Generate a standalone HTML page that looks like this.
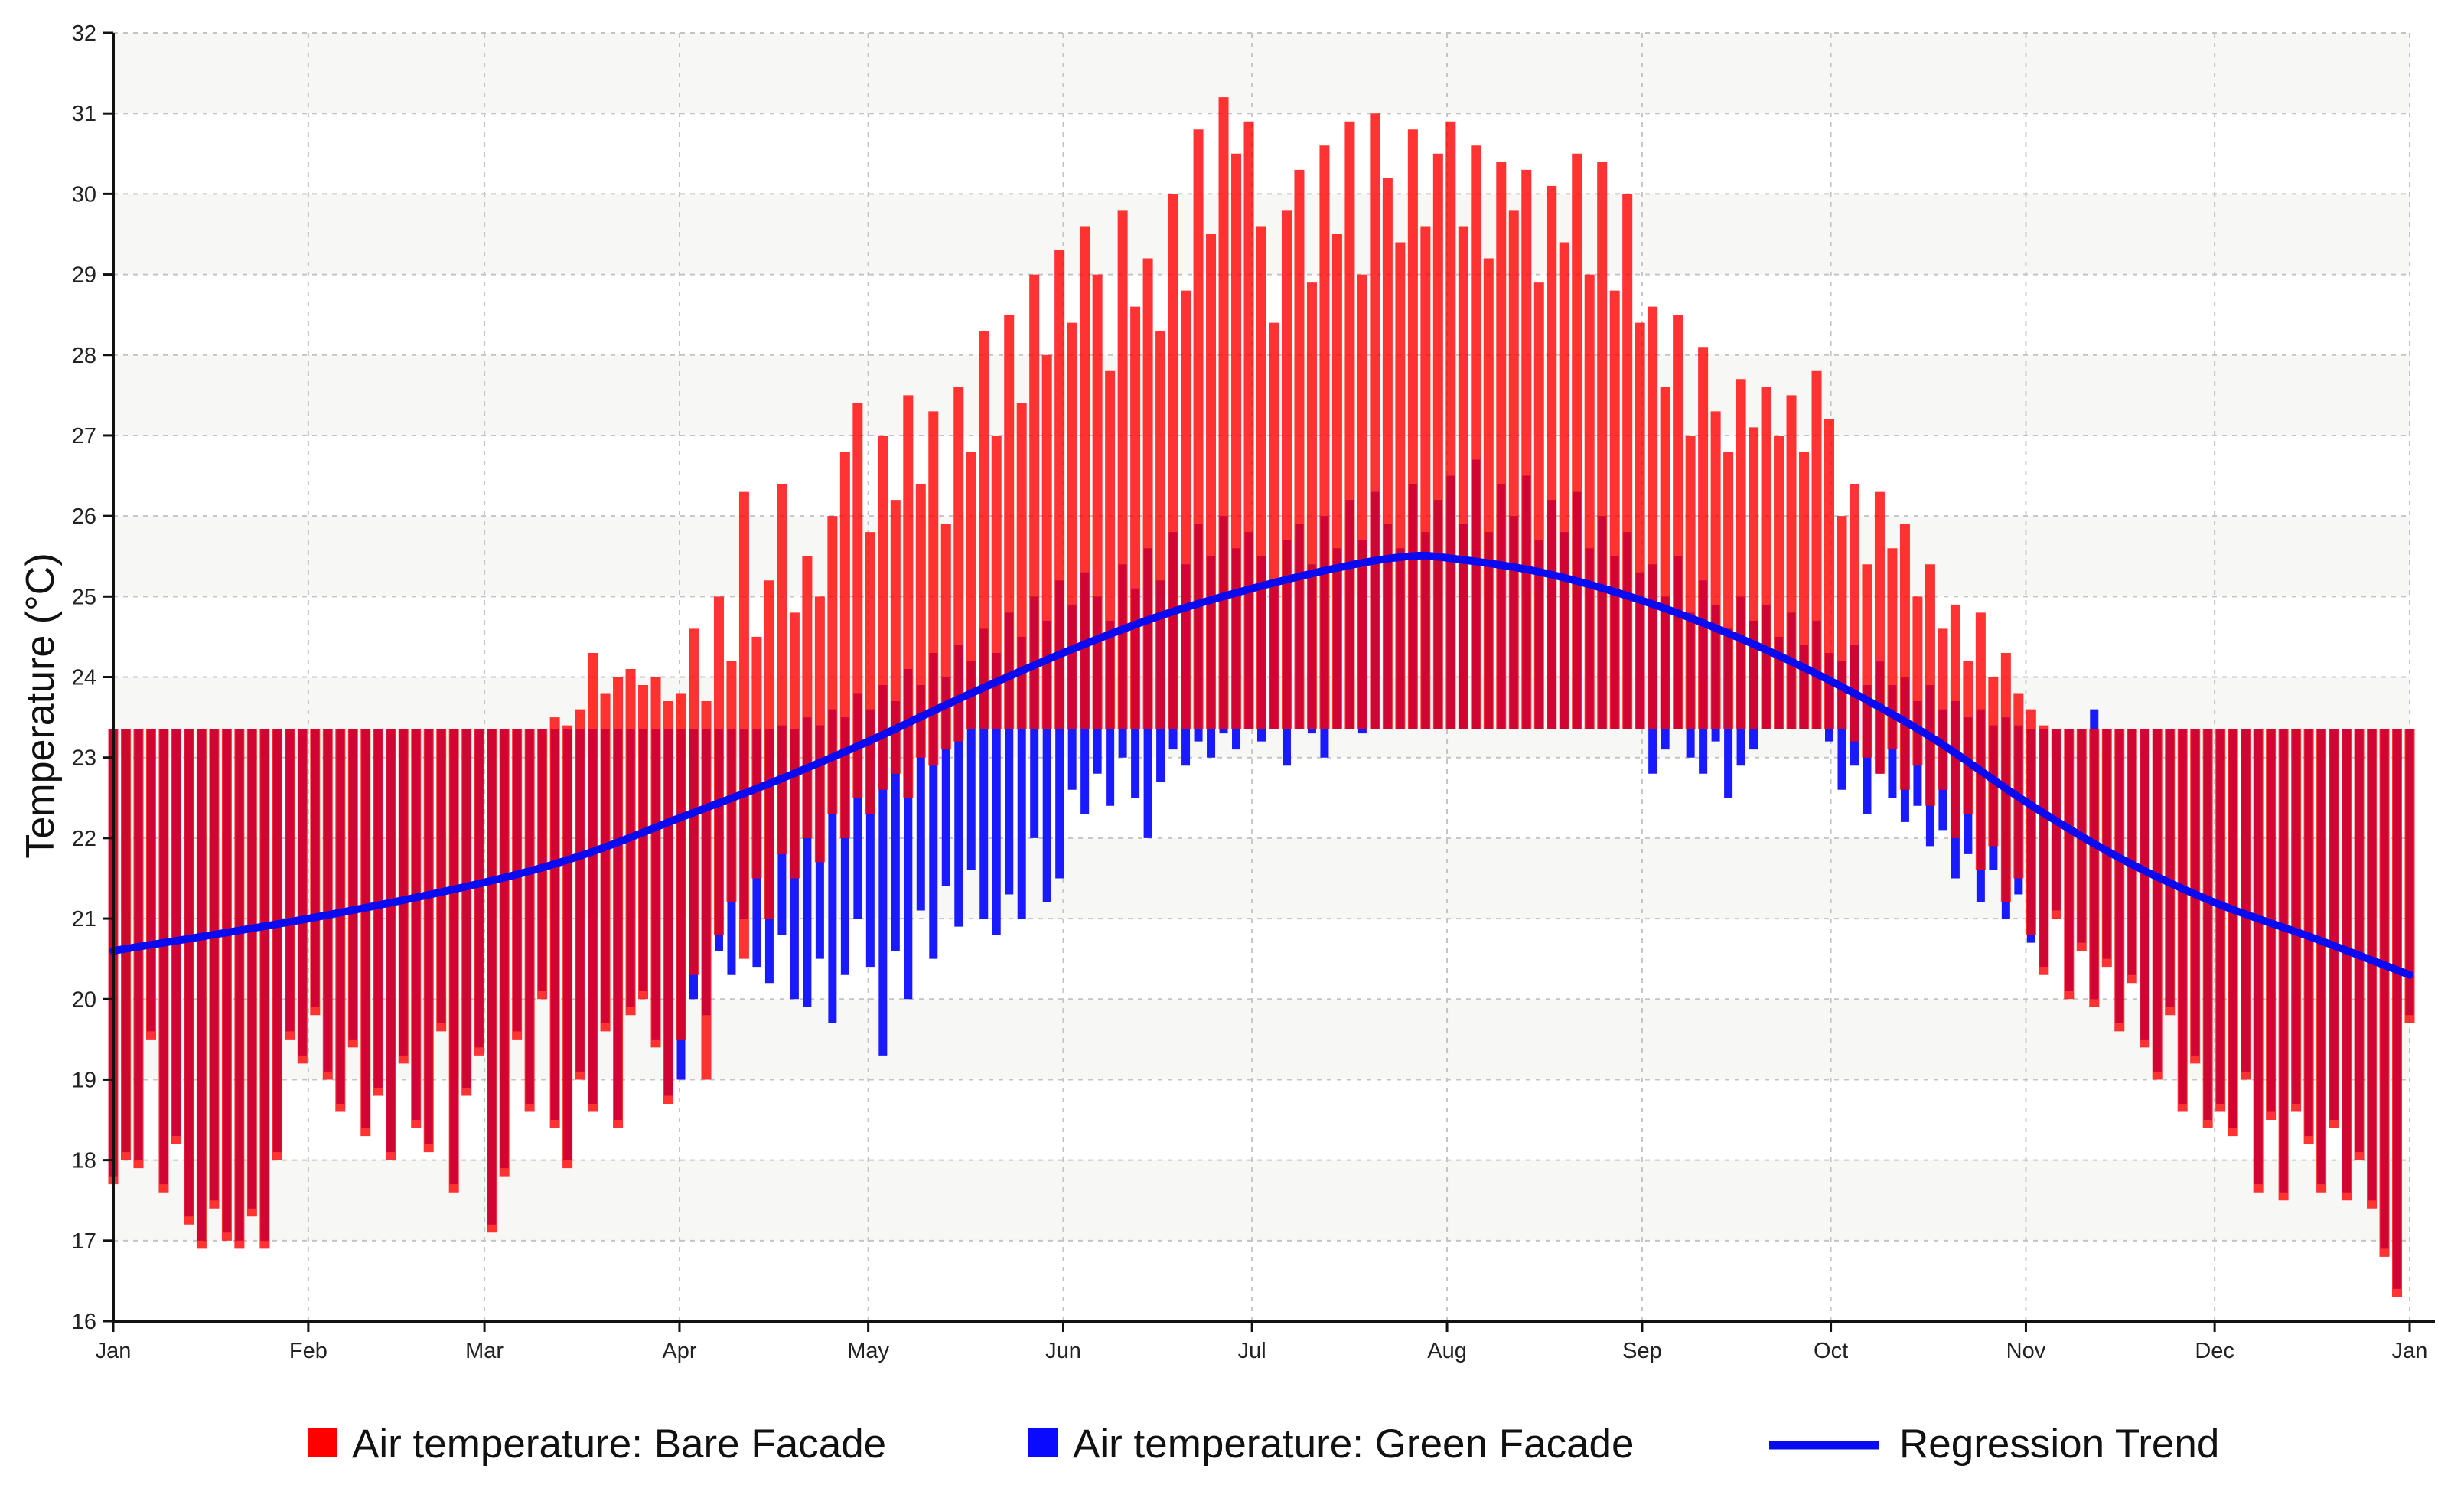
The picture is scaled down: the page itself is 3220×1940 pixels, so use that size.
<!DOCTYPE html>
<html><head><meta charset="utf-8"><style>
html,body{margin:0;padding:0;background:#fff;}
svg{display:block;font-family:"Liberation Sans",Arial,sans-serif;}
</style></head><body>
<svg id="chart" width="3220" height="1940" viewBox="0 0 3220 1940" xmlns="http://www.w3.org/2000/svg">
<g id="bands"></g>
<g id="grid"></g>
<g id="green"></g>
<g id="bare"></g>
<path id="trend" fill="none" stroke="#0a0af0" stroke-width="10" stroke-linejoin="round" stroke-linecap="round"/>
<g id="axes"></g>
<text transform="translate(70,922) rotate(-90)" text-anchor="middle" font-size="52" fill="#111">Temperature (°C)</text>
<g>
<g><rect x="402" y="1866" width="38" height="38" fill="#ff0000"/><text x="460" y="1904" font-size="53" fill="#111">Air temperature: Bare Facade</text></g>
<g><rect x="1344" y="1866" width="38" height="38" fill="#0a0aff"/><text x="1402" y="1904" font-size="53" fill="#111">Air temperature: Green Facade</text></g>
<g><line x1="2312" y1="1888" x2="2456" y2="1888" stroke="#0a0af0" stroke-width="11"/><text x="2482" y="1904" font-size="53" fill="#111">Regression Trend</text></g>
</g>
</svg>
<script>
const monthLabels=["Jan","Feb","Mar","Apr","May","Jun","Jul","Aug","Sep","Oct","Nov","Dec","Jan"];
const monthDays=[0,31,59,90,120,151,181,212,243,273,304,334,365];
const yTicks=[16,17,18,19,20,21,22,23,24,25,26,27,28,29,30,31,32];
const baseline=23.35;
const bareHi=[23.35,23.35,23.35,23.35,23.35,23.35,23.35,23.35,23.35,23.35,23.35,23.35,23.35,23.35,23.35,23.35,23.35,23.35,23.35,23.35,23.35,23.35,23.35,23.35,23.35,23.35,23.35,23.35,23.35,23.35,23.35,23.35,23.35,23.35,23.35,
23.5,23.4,23.6,24.3,23.8,24.0,24.1,23.9,24.0,23.7,
23.8,24.6,23.7,25.0,24.2,26.3,24.5,25.2,26.4,24.8,25.5,25.0,26.0,26.8,27.4,
25.8,27.0,26.2,27.5,26.4,27.3,25.9,27.6,26.8,28.3,27.0,28.5,27.4,29.0,28.0,29.3,
28.4,29.6,29.0,27.8,29.8,28.6,29.2,28.3,30.0,28.8,30.8,29.5,31.2,30.5,30.9,
29.6,28.4,29.8,30.3,28.9,30.6,29.5,30.9,29.0,31.0,30.2,29.4,30.8,29.6,30.5,
30.9,29.6,30.6,29.2,30.4,29.8,30.3,28.9,30.1,29.4,30.5,29.0,30.4,28.8,30.0,28.4,
28.6,27.6,28.5,27.0,28.1,27.3,26.8,27.7,27.1,27.6,27.0,27.5,26.8,27.8,27.2,
26.0,26.4,25.4,26.3,25.6,25.9,25.0,25.4,24.6,24.9,24.2,24.8,24.0,24.3,23.8,
23.6,23.4,23.35,23.35,23.35,23.35,23.35,23.35,23.35,23.35,23.35,23.35,23.35,23.35,23.35,
23.35,23.35,23.35,23.35,23.35,23.35,23.35,23.35,23.35,23.35,23.35,23.35,23.35,23.35,23.35,23.35];
const bareLo=[17.7,18.0,17.9,19.5,17.6,18.2,17.2,16.9,17.4,17.0,16.9,17.3,16.9,18.0,19.5,19.2,
19.8,19.0,18.6,19.4,18.3,18.8,18.0,19.2,18.4,18.1,19.6,17.6,18.8,19.3,
17.1,17.8,19.5,18.6,20.0,18.4,17.9,19.0,18.6,19.6,18.4,19.8,20.0,19.4,18.7,
19.5,20.3,19.0,20.8,21.2,20.5,21.5,21.0,21.8,21.5,22.0,21.7,22.3,22.0,22.5,
22.3,22.6,22.8,22.5,23.0,22.9,23.1,23.2,23.35,23.35,23.35,23.35,23.35,23.35,23.35,23.35,
23.35,23.35,23.35,23.35,23.35,23.35,23.35,23.35,23.35,23.35,23.35,23.35,23.35,23.35,23.35,
23.35,23.35,23.35,23.35,23.35,23.35,23.35,23.35,23.35,23.35,23.35,23.35,23.35,23.35,23.35,
23.35,23.35,23.35,23.35,23.35,23.35,23.35,23.35,23.35,23.35,23.35,23.35,23.35,23.35,23.35,23.35,
23.35,23.35,23.35,23.35,23.35,23.35,23.35,23.35,23.35,23.35,23.35,23.35,23.35,23.35,23.35,
23.35,23.2,23.0,22.8,23.1,22.6,22.9,22.4,22.6,22.0,22.3,21.6,21.9,21.2,21.5,
20.8,20.3,21.0,20.0,20.6,19.9,20.4,19.6,20.2,19.4,19.0,19.8,18.6,19.2,18.4,
18.6,18.3,19.0,17.6,18.5,17.5,18.6,18.2,17.6,18.4,17.5,18.0,17.4,16.8,16.3,19.7];
const greenHi=[23.35,23.35,23.35,23.35,23.35,23.35,23.35,23.35,23.35,23.35,23.35,23.35,23.35,23.35,23.35,23.35,23.35,23.35,23.35,23.35,23.35,23.35,23.35,23.35,23.35,23.35,23.35,23.35,23.35,23.35,23.35,23.35,23.35,23.35,23.35,
23.35,23.35,23.35,23.35,23.35,23.35,23.35,23.35,23.35,23.35,
23.35,23.35,23.35,23.35,23.35,23.35,23.35,23.35,23.4,23.35,23.5,23.4,23.6,23.5,23.8,
23.6,23.9,23.7,24.1,23.9,24.3,24.0,24.4,24.2,24.6,24.3,24.8,24.5,25.0,24.7,25.2,
24.9,25.3,25.0,24.7,25.4,25.1,25.6,25.2,25.8,25.4,25.9,25.5,26.0,25.6,25.8,
25.5,25.2,25.7,25.9,25.4,26.0,25.6,26.2,25.7,26.3,25.9,25.6,26.4,25.8,26.2,
26.5,25.9,26.7,25.8,26.4,26.0,26.5,25.7,26.2,25.8,26.3,25.6,26.0,25.5,25.8,25.3,
25.4,25.0,25.5,24.8,25.2,24.9,24.6,25.0,24.7,24.9,24.5,24.8,24.4,24.7,24.3,
24.2,24.4,23.9,24.2,23.9,24.0,23.7,23.9,23.6,23.7,23.5,23.6,23.4,23.5,23.4,
23.35,23.35,23.35,23.35,23.35,23.6,23.35,23.35,23.35,23.35,23.35,23.35,23.35,23.35,23.35,
23.35,23.35,23.35,23.35,23.35,23.35,23.35,23.35,23.35,23.35,23.35,23.35,23.35,23.35,23.35,23.35];
const greenLo=[17.8,18.1,18.0,19.6,17.7,18.3,17.3,17.0,17.5,17.1,17.0,17.4,17.0,18.1,19.6,19.3,
19.9,19.1,18.7,19.5,18.4,18.9,18.1,19.3,18.5,18.2,19.7,17.7,18.9,19.4,
17.2,17.9,19.6,18.7,20.1,18.5,18.0,19.1,18.7,19.7,18.5,19.9,20.1,19.5,18.8,
19.0,20.0,19.8,20.6,20.3,21.0,20.4,20.2,20.8,20.0,19.9,20.5,19.7,20.3,21.0,
20.4,19.3,20.6,20.0,21.1,20.5,21.4,20.9,21.6,21.0,20.8,21.3,21.0,22.0,21.2,21.5,
22.6,22.3,22.8,22.4,23.0,22.5,22.0,22.7,23.1,22.9,23.2,23.0,23.3,23.1,23.35,
23.2,23.35,22.9,23.35,23.3,23.0,23.35,23.35,23.3,23.35,23.35,23.35,23.35,23.35,23.35,
23.35,23.35,23.35,23.35,23.35,23.35,23.35,23.35,23.35,23.35,23.35,23.35,23.35,23.35,23.35,23.35,
22.8,23.1,23.35,23.0,22.8,23.2,22.5,22.9,23.1,23.35,23.35,23.35,23.35,23.35,23.2,
22.6,22.9,22.3,22.8,22.5,22.2,22.4,21.9,22.1,21.5,21.8,21.2,21.6,21.0,21.3,
20.7,20.4,21.1,20.1,20.7,20.0,20.5,19.7,20.3,19.5,19.1,19.9,18.7,19.3,18.5,
18.7,18.4,19.1,17.7,18.6,17.6,18.7,18.3,17.7,18.5,17.6,18.1,17.5,16.9,16.4,19.8];
const trendDays=[0,31,59,75,90,105,120,135,151,166,181,196,206,212,227,243,258,273,289,304,319,334,350,365];
const trendVals=[20.6,21.0,21.45,21.8,22.25,22.7,23.2,23.75,24.3,24.75,25.1,25.38,25.5,25.48,25.3,24.95,24.5,23.95,23.25,22.45,21.75,21.2,20.75,20.3];

const NS="http://www.w3.org/2000/svg";
const X0=148,X1=3149,Y0=1726,Y1=43;
const xS=d=>X0+d/365*(X1-X0);
const yS=v=>Y0-(v-16)/(32-16)*(Y0-Y1);
function mk(tag,attrs,parent){const e=document.createElementNS(NS,tag);for(const k in attrs)e.setAttribute(k,attrs[k]);parent.appendChild(e);return e;}
const bands=document.getElementById('bands'),grid=document.getElementById('grid'),axes=document.getElementById('axes');
for(let i=0;i<yTicks.length-1;i++){
  if(yTicks[i]%2===1){
    const r=mk('rect',{x:X0,y:yS(yTicks[i+1]),width:X1-X0,height:yS(yTicks[i])-yS(yTicks[i+1]),fill:'#f7f7f5'},bands);
    
    
  }
}
yTicks.forEach(v=>{
  if(v>16){const l=mk('line',{x1:X0,x2:X1,y1:yS(v),y2:yS(v),stroke:'#c4c4c4','stroke-width':2,'stroke-dasharray':'6 7'},grid);
  
  }
  const t=mk('line',{x1:X0-14,x2:X0,y1:yS(v),y2:yS(v),stroke:'#111','stroke-width':3},axes);
  
  
  const tx=mk('text',{x:X0-22,y:yS(v)+10,'text-anchor':'end','font-size':29,fill:'#222'},axes);
  tx.textContent=v;
  
  
});
monthDays.forEach((d,i)=>{
  if(i>0){const l=mk('line',{x1:xS(d),x2:xS(d),y1:Y1,y2:Y0,stroke:'#c4c4c4','stroke-width':2,'stroke-dasharray':'6 7'},grid);
  
  }
  const t=mk('line',{x1:xS(d),x2:xS(d),y1:Y0,y2:Y0+14,stroke:'#111','stroke-width':3},axes);
  
  
  const tx=mk('text',{x:xS(d),y:Y0+48,'text-anchor':'middle','font-size':29,fill:'#222'},axes);
  tx.textContent=monthLabels[i];
  
  
});
const ya=mk('line',{x1:X0,x2:X0,y1:Y1,y2:Y0,stroke:'#111','stroke-width':4},axes);


const xa=mk('line',{x1:X0,x2:X1+33,y1:Y0,y2:Y0,stroke:'#111','stroke-width':4},axes);


const n=bareHi.length,step=365/(n-1);
const gG=document.getElementById('green'),gB=document.getElementById('bare');
for(let i=0;i<n;i++){
  const x=xS(i*step);
  const lo=Math.min(greenLo[i],baseline),hi=Math.max(greenHi[i],baseline);
  const b=mk('line',{x1:x,x2:x,y1:yS(lo),y2:yS(hi),stroke:'#1a1aff','stroke-width':11},gG);
  
  
}
for(let i=0;i<n;i++){
  const x=xS(i*step);
  const lo=Math.min(bareLo[i],baseline),hi=Math.max(bareHi[i],baseline);
  const b=mk('line',{x1:x,x2:x,y1:yS(lo),y2:yS(hi),stroke:'#ff0000','stroke-opacity':0.8,'stroke-width':13},gB);
  
  
}
const pts=trendDays.map((d,i)=>[xS(d),yS(trendVals[i])]);
let dStr='M'+pts[0][0]+','+pts[0][1];
for(let i=0;i<pts.length-1;i++){
  const p0=pts[Math.max(0,i-1)],p1=pts[i],p2=pts[i+1],p3=pts[Math.min(pts.length-1,i+2)];
  const c1=[p1[0]+(p2[0]-p0[0])/6,p1[1]+(p2[1]-p0[1])/6],c2=[p2[0]-(p3[0]-p1[0])/6,p2[1]-(p3[1]-p1[1])/6];
  dStr+=' C'+c1[0]+','+c1[1]+' '+c2[0]+','+c2[1]+' '+p2[0]+','+p2[1];
}
document.getElementById('trend').setAttribute('d',dStr);
</script>
</body></html>
